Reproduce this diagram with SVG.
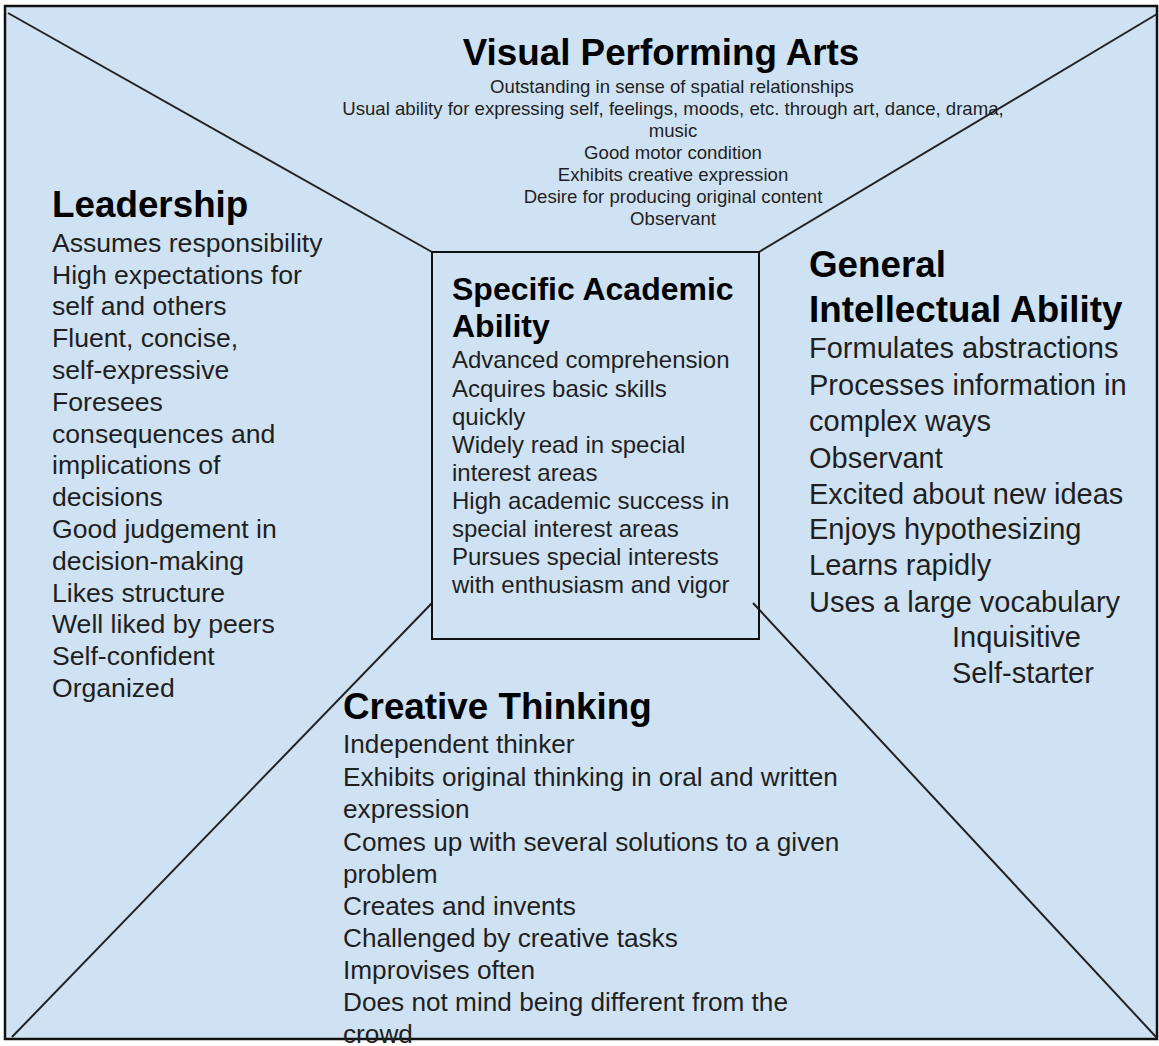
<svg xmlns="http://www.w3.org/2000/svg" width="1159" height="1046" viewBox="0 0 1159 1046">
<style>
text{font-family:"Liberation Sans",Arial,sans-serif;fill:#000}
.t{font-weight:bold;font-size:36.8px}
.t2{font-weight:bold;font-size:32px}
.b27{font-size:26.6px;fill:#1f1f1f}
.b26{font-size:26.2px;fill:#1f1f1f}
.b24{font-size:24px;fill:#1f1f1f}
.b29{font-size:29px;fill:#1f1f1f}
.b18{font-size:18.6px;fill:#1f1f1f}
.ln{stroke:#222;stroke-width:2;fill:none}
</style>
<rect id="background" x="5" y="6" width="1152" height="1033" fill="#cfe2f3" stroke="#111" stroke-width="2.5"/>
<g id="connectors">
<line class="ln" x1="8" y1="13" x2="432" y2="252"/>
<line class="ln" x1="759" y1="252" x2="1157" y2="14"/>
<line class="ln" x1="432" y1="603" x2="12" y2="1037"/>
<line class="ln" x1="753" y1="603" x2="1157" y2="1038"/>
</g>
<g id="visual-performing-arts">
<text class="t" x="661" y="65" text-anchor="middle">Visual Performing Arts</text>
<g class="b18" text-anchor="middle">
<text class="b18" x="672" y="93">Outstanding in sense of spatial relationships</text>
<text class="b18" x="673" y="115">Usual ability for expressing self, feelings, moods, etc. through art, dance, drama,</text>
<text class="b18" x="673" y="137">music</text>
<text class="b18" x="673" y="159">Good motor condition</text>
<text class="b18" x="673" y="181">Exhibits creative expression</text>
<text class="b18" x="673" y="203">Desire for producing original content</text>
<text class="b18" x="673" y="225">Observant</text>
</g>
</g>
<g id="leadership">
<text class="t" x="52" y="217">Leadership</text>
<text class="b27" x="52" y="252">Assumes responsibility</text>
<text class="b27" x="52" y="284">High expectations for</text>
<text class="b27" x="52" y="315">self and others</text>
<text class="b27" x="52" y="347">Fluent, concise,</text>
<text class="b27" x="52" y="379">self-expressive</text>
<text class="b27" x="52" y="411">Foresees</text>
<text class="b27" x="52" y="443">consequences and</text>
<text class="b27" x="52" y="474">implications of</text>
<text class="b27" x="52" y="506">decisions</text>
<text class="b27" x="52" y="538">Good judgement in</text>
<text class="b27" x="52" y="570">decision-making</text>
<text class="b27" x="52" y="602">Likes structure</text>
<text class="b27" x="52" y="633">Well liked by peers</text>
<text class="b27" x="52" y="665">Self-confident</text>
<text class="b27" x="52" y="697">Organized</text>
</g>
<g id="specific-academic-ability">
<rect x="432" y="252" width="327" height="387" fill="none" stroke="#111" stroke-width="2"/>
<text class="t2" x="452" y="300">Specific Academic</text>
<text class="t2" x="452" y="337">Ability</text>
<text class="b24" x="452" y="368">Advanced comprehension</text>
<text class="b24" x="452" y="397">Acquires basic skills</text>
<text class="b24" x="452" y="425">quickly</text>
<text class="b24" x="452" y="453">Widely read in special</text>
<text class="b24" x="452" y="481">interest areas</text>
<text class="b24" x="452" y="509">High academic success in</text>
<text class="b24" x="452" y="537">special interest areas</text>
<text class="b24" x="452" y="565">Pursues special interests</text>
<text class="b24" x="452" y="593">with enthusiasm and vigor</text>
</g>
<g id="general-intellectual-ability">
<text class="t" x="809" y="277">General</text>
<text class="t" x="809" y="322">Intellectual Ability</text>
<text class="b29" x="809" y="358">Formulates abstractions</text>
<text class="b29" x="809" y="395">Processes information in</text>
<text class="b29" x="809" y="431">complex ways</text>
<text class="b29" x="809" y="468">Observant</text>
<text class="b29" x="809" y="504">Excited about new ideas</text>
<text class="b29" x="809" y="539">Enjoys hypothesizing</text>
<text class="b29" x="809" y="575">Learns rapidly</text>
<text class="b29" x="809" y="612">Uses a large vocabulary</text>
<text class="b29" x="952" y="647">Inquisitive</text>
<text class="b29" x="952" y="683">Self-starter</text>
</g>
<g id="creative-thinking">
<text class="t" x="343" y="719">Creative Thinking</text>
<text class="b26" x="343" y="753">Independent thinker</text>
<text class="b26" x="343" y="786">Exhibits original thinking in oral and written</text>
<text class="b26" x="343" y="818">expression</text>
<text class="b26" x="343" y="851">Comes up with several solutions to a given</text>
<text class="b26" x="343" y="883">problem</text>
<text class="b26" x="343" y="915">Creates and invents</text>
<text class="b26" x="343" y="947">Challenged by creative tasks</text>
<text class="b26" x="343" y="979">Improvises often</text>
<text class="b26" x="343" y="1011">Does not mind being different from the</text>
<text class="b26" x="343" y="1043">crowd</text>
</g>
</svg>
